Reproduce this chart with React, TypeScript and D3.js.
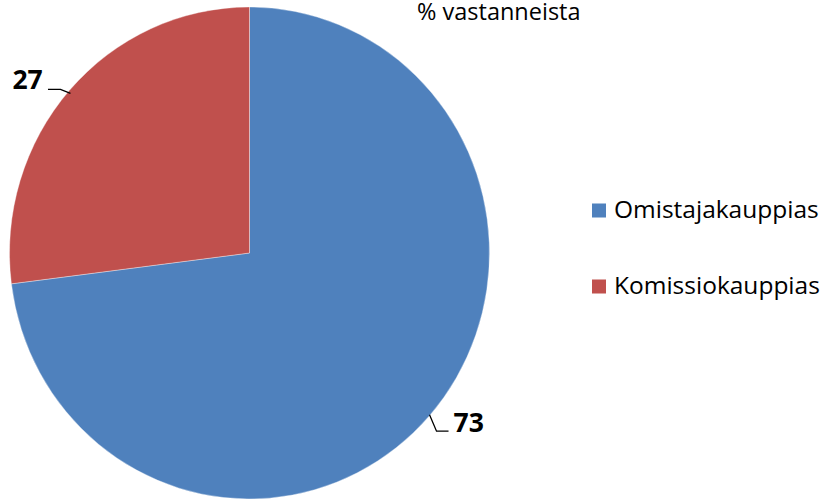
import React from "react";
import * as d3 from "d3";

const categories = ["Omistajakauppias", "Komissiokauppias"];
const values = [73, 27];
const colors = ["#4F81BD", "#C0504D"];
const title = "% vastanneista";

export default function App() {
  const width = 821;
  const height = 500;
  const cx = 249.5;
  const cy = 253;
  const rx = 240;
  const ry = 246;
  const font = "'Open Sans', sans-serif";

  const pie = d3.pie<number>().sort(null).value((d) => d);
  const arcs = pie(values);
  const arc = d3.arc<d3.PieArcDatum<number>>().innerRadius(0).outerRadius(rx);

  const anchors = arcs.map((a) => {
    const mid = (a.startAngle + a.endAngle) / 2;
    return { px: cx + Math.sin(mid) * rx, py: cy - Math.cos(mid) * ry };
  });

  const a0 = anchors[0];
  const a1 = anchors[1];

  return (
    <svg width={width} height={height} style={{ position: "absolute", left: 0, top: 0 }}>
      <rect width={width} height={height} fill="#fff" />
      <g transform={`translate(${cx},${cy}) scale(1,${ry / rx})`}>
        {arcs.map((a, i) => (
          <path key={i} d={arc(a) || ""} fill={colors[i]} stroke="#fff" strokeWidth={0.6} strokeOpacity={0.6} />
        ))}
      </g>
      <g>
        <polyline
          points={`${a0.px},${a0.py - 1} ${a0.px + 7},${a0.py + 15.5} ${a0.px + 19},${a0.py + 15.5}`}
          fill="none"
          stroke="#000"
          strokeWidth={1.3}
        />
        <text x={a0.px + 24} y={a0.py + 16.5} fontFamily={font} fontWeight="bold" fontSize={26.5} fill="#000">
          {values[0]}
        </text>
      </g>
      <g>
        <polyline
          points={`${a1.px + 1},${a1.py + 3} ${a1.px - 9},${a1.py - 1} ${a1.px - 21.5},${a1.py - 1}`}
          fill="none"
          stroke="#000"
          strokeWidth={1.3}
        />
        <text x={a1.px - 57} y={a1.py - 1.5} fontFamily={font} fontWeight="bold" fontSize={26.5} fill="#000">
          {values[1]}
        </text>
      </g>
      <text x={417} y={20} fontFamily={font} fontSize={23.5} fill="#000">
        {title}
      </text>
      {categories.map((c, i) => (
        <g key={c} transform={`translate(592,${203.5 + i * 76})`}>
          <rect width={14} height={14} fill={colors[i]} />
          <text x={22} y={14.5} fontFamily={font} fontSize={24.5} fill="#000">
            {c}
          </text>
        </g>
      ))}
    </svg>
  );
}
